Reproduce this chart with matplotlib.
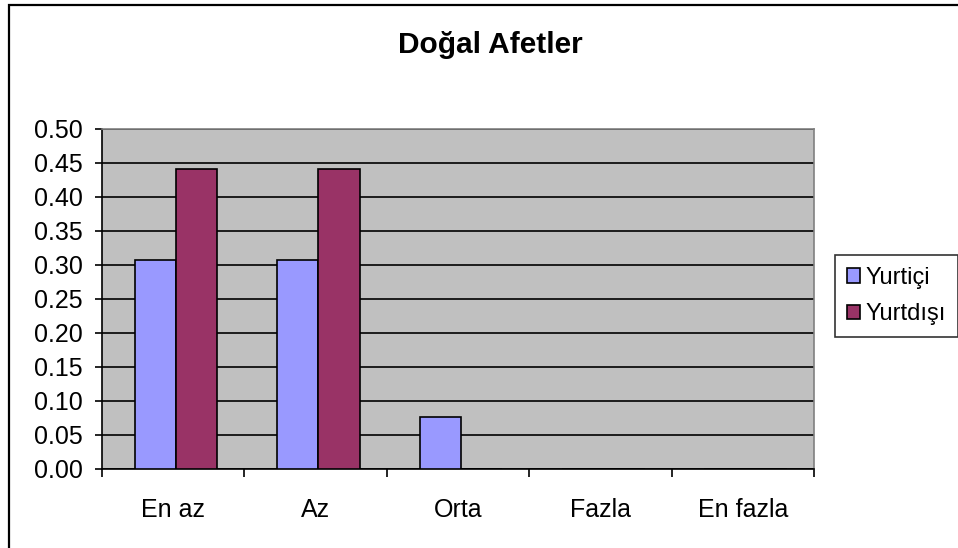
import numpy as np
import matplotlib.pyplot as plt
from matplotlib.patches import Rectangle

plt.rcParams['font.family'] = ['Liberation Sans', 'DejaVu Sans']

categories = ["En az", "Az", "Orta", "Fazla", "En fazla"]
yurtici = [0.308, 0.308, 0.077, 0.0, 0.0]
yurtdisi = [0.441, 0.441, 0.0, 0.0, 0.0]
series_names = ["Yurtiçi", "Yurtdışı"]

W, H = 958, 548
fig = plt.figure(figsize=(W / 100, H / 100), dpi=100)
# chart frame, cut off on the right and bottom like the reference
fig.patches.append(Rectangle((8.5 / W, -0.1), 1.2, 1.1 - 5.5 / H, transform=fig.transFigure,
                             fill=False, edgecolor="black", linewidth=1.6, zorder=0))

ax = fig.add_axes([102 / W, 1 - 469 / H, 712 / W, 340 / H])
ax.set_facecolor("#C0C0C0")

x = np.arange(len(categories))
w = 0.29
off = 0.02
ax.bar(x - w / 2 + off, yurtici, w, color="#9999FF", edgecolor="black", linewidth=1.2,
       label=series_names[0], zorder=3)
ax.bar(x + w / 2 + off, yurtdisi, w, color="#993366", edgecolor="black", linewidth=1.2,
       label=series_names[1], zorder=3)

ax.set_xlim(-0.5, len(categories) - 0.5)
ax.set_ylim(0, 0.5)
yt = np.arange(0, 0.501, 0.05)
ax.set_yticks(yt)
ax.set_yticklabels([f"{v:.2f}" for v in yt], fontsize=18)
ax.yaxis.grid(True, color="black", linewidth=1.2, zorder=1)
ax.set_axisbelow(True)

ax.set_xticks(x)
ax.set_xticklabels(categories, fontsize=18)
ax.tick_params(axis="x", length=0, pad=21)
ax.set_xticks(np.arange(-0.5, len(categories)), minor=True)
ax.tick_params(axis="x", which="minor", length=6, width=1.2, direction="out")
ax.tick_params(axis="y", length=5, width=1.2, direction="out", pad=9)

for s in ["top", "right"]:
    ax.spines[s].set_color("#808080")
    ax.spines[s].set_linewidth(1.2)
for s in ["left", "bottom"]:
    ax.spines[s].set_color("black")
    ax.spines[s].set_linewidth(1.2)

fig.text(490 / W, 1 - 53 / H, "Doğal Afetler", ha="center", va="baseline",
         fontsize=21.5, fontweight="bold")

leg = fig.legend(loc="upper left", bbox_to_anchor=(835 / W, 1 - 255 / H),
                 fontsize=17, frameon=True, fancybox=False, handlelength=0.55,
                 handleheight=0.55, handletextpad=0.25, borderpad=0.5,
                 labelspacing=0.6, borderaxespad=0)
leg.get_frame().set_edgecolor("black")
leg.get_frame().set_linewidth(1.2)

fig.savefig("out.png", dpi=100)
